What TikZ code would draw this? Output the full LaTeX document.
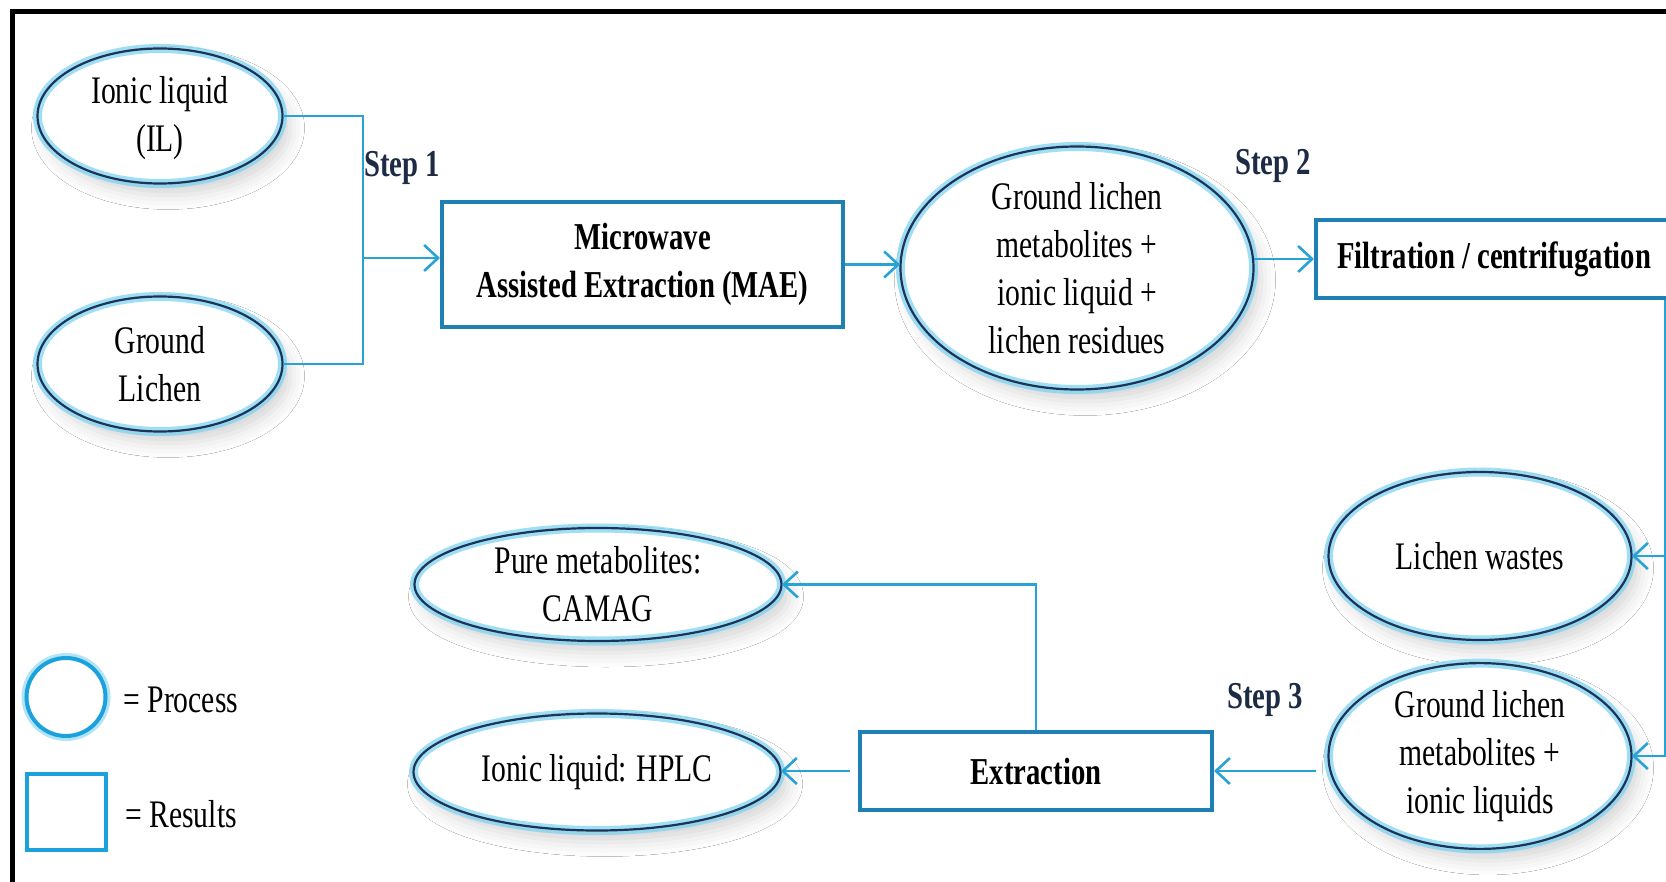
\documentclass[tikz,border=0pt]{standalone}
\usepackage{fontspec}
\setmainfont{Liberation Serif}[FakeStretch=0.76]
\newfontfamily\bfam{Liberation Serif}[FakeStretch=0.755]
\usetikzlibrary{arrows.meta,shapes.geometric,shadows.blur}
\definecolor{ellline}{HTML}{1C3557}
\definecolor{glowc}{HTML}{7FD3F2}
\definecolor{boxc}{HTML}{1F80B4}
\definecolor{connc}{HTML}{27A3D6}
\definecolor{stepc}{HTML}{1D2B44}
\definecolor{legc}{HTML}{1BA1DC}
\tikzset{
  proc/.style={ellipse, inner sep=0pt, align=center, fill=white,
    font=\fontsize{19.5}{24}\selectfont,
    blur shadow={shadow xshift=4pt, shadow yshift=-6pt, shadow opacity=16, shadow blur radius=7pt},
    postaction={draw=glowc, line width=4.5pt, opacity=0.75},
    postaction={draw=ellline, line width=1.1pt}},
  resbox/.style={rectangle, inner sep=0pt, align=center, fill=white, draw=boxc, line width=2pt,
    font=\bfam\bfseries\fontsize{19}{24}\selectfont},
  steplbl/.style={font=\bfam\bfseries\fontsize{19}{20}\selectfont, text=stepc, inner sep=0pt},
  legtxt/.style={font=\fontsize{19.5}{20}\selectfont, inner sep=0pt},
  conn/.style={draw=connc, line width=1.3pt},
  arr/.style={conn, -{Straight Barb[length=7pt,width=13pt]}},
}
\begin{document}
\begin{tikzpicture}[x=0.5pt,y=-0.5pt]
\useasboundingbox (0,0) rectangle (1666,882);
\fill[white] (0,0) rectangle (1666,882);
\clip (0,0) rectangle (1666,882);
% frame
\draw[line width=2.5pt] (12.5,890) -- (12.5,12) -- (1680,12);

% nodes
\node[proc, minimum width=122.5pt, minimum height=67.5pt, text depth=2pt] (il) at (160,116) {Ionic liquid\\(IL)};
\node[proc, minimum width=122.5pt, minimum height=67.5pt] (gl) at (160,364) {Ground\\Lichen};
\node[resbox, minimum width=200.5pt, minimum height=62.5pt] (mae) at (642.5,264.5) {Microwave\\Assisted Extraction (MAE)};
\node[proc, minimum width=176.5pt, minimum height=121.5pt] (glm) at (1077,268) {Ground lichen\\metabolites +\\ionic liquid +\\lichen residues};
\node[resbox, minimum width=178pt, minimum height=39pt] (filt) at (1494,259) {Filtration / centrifugation};
\node[proc, minimum width=151.5pt, minimum height=84pt] (lw) at (1480,556) {Lichen wastes};
\node[proc, minimum width=151.5pt, minimum height=81.5pt] (glil) at (1480,756) {Ground lichen\\metabolites +\\ionic liquids};
\node[resbox, minimum width=176pt, minimum height=39pt] (ext) at (1036,771) {Extraction};
\node[proc, minimum width=183.5pt, minimum height=56.5pt] (pure) at (598,584.5) {Pure metabolites:\\CAMAG};
\node[proc, minimum width=183.5pt, minimum height=58.5pt] (hplc) at (597,772) {Ionic liquid: HPLC};

% step labels
\node[steplbl] (s1) at (402,168) {Step 1};
\node[steplbl] (s2) at (1273,166) {Step 2};
\node[steplbl] (s3) at (1265,700) {Step 3};

% legend
\node[ellipse, minimum width=39.5pt, minimum height=39pt, inner sep=0pt, fill=white,
  preaction={draw=glowc, line width=5pt, opacity=0.6},
  draw=legc, line width=2pt] (lgc) at (66,697) {};
\node[legtxt, anchor=west] (lgct) at (123,700) {= Process};
\node[rectangle, minimum width=39.5pt, minimum height=38pt, inner sep=0pt, draw=legc, line width=2pt] (lgr) at (66.5,812) {};
\node[legtxt, anchor=west] (lgrt) at (125,814) {= Results};

% connectors
\coordinate (j1) at (363,258);
\draw[conn] (il.east) -| (j1) |- (gl.east);
\draw[arr] (j1) -- (j1 -| mae.west);
\draw[arr] (mae.east) -- (mae.east -| glm.west);
\draw[arr] (filt.west -| glm.east) -- (filt.west);
\coordinate (vtop) at ([xshift=-4.5pt]filt.south east);
\draw[arr] (vtop) |- (glil.east);
\draw[arr] (vtop |- lw.east) -- (lw.east);
\draw[arr] ([xshift=-6pt]ext.east -| glil.west) -- (ext.east);
\draw[arr] ([xshift=-4pt]ext.west) -- (ext.west -| hplc.east);
\draw[arr] (ext.north) |- (pure.east);
\end{tikzpicture}
\end{document}
